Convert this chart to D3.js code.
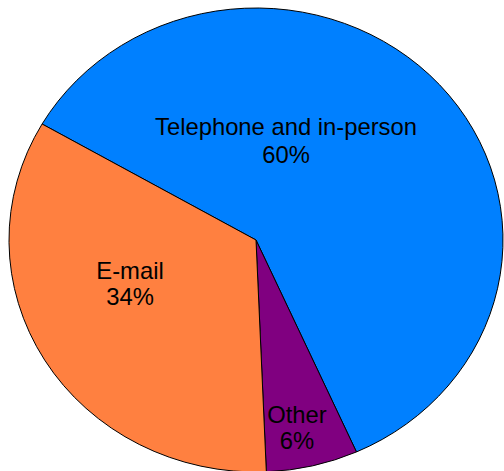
<!DOCTYPE html>
<html>
<head>
<meta charset="utf-8">
<script src="https://cdn.jsdelivr.net/npm/d3@7/dist/d3.min.js"></script>
<style>
html,body{margin:0;padding:0;background:#fff;overflow:hidden;}
svg{display:block;}
</style>
</head>
<body>
<script>
const categories = ["Telephone and in-person", "Other", "E-mail"];
const values = [60, 6, 34];
const pctLabels = ["60%", "6%", "34%"];
const colors = ["#0080FF", "#800080", "#FF8040"];

const W = 504, H = 471;
const cx = 256, cy = 240, rx = 247, ry = 232;

const svg = d3.select("body").append("svg").attr("width", W).attr("height", H);

const pie = d3.pie().sort(null).value(d => d)
  .startAngle(-60 * Math.PI / 180)
  .endAngle(300 * Math.PI / 180);
const arcs = pie(values);
const arc = d3.arc().innerRadius(0).outerRadius(ry);

const g = svg.append("g")
  .attr("transform", `translate(${cx},${cy}) scale(${rx / ry},1)`);

g.selectAll("path").data(arcs).enter().append("path")
  .attr("d", arc)
  .attr("fill", (d, i) => colors[i])
  .attr("stroke", "#000")
  .attr("stroke-width", 1)
  .attr("vector-effect", "non-scaling-stroke");

const labelPos = [
  {x: 286, y: 135},
  {x: 297, y: 423},
  {x: 130, y: 279}
];

const tg = svg.append("g").attr("font-family", "Liberation Sans, Arial, sans-serif")
  .attr("font-size", 23.8).attr("fill", "#000").attr("text-anchor", "middle");

categories.forEach((c, i) => {
  const t = tg.append("text").attr("x", labelPos[i].x).attr("y", labelPos[i].y);
  t.append("tspan").attr("x", labelPos[i].x).text(c);
  t.append("tspan").attr("x", labelPos[i].x).attr("dy", i === 0 ? 28 : 26).text(pctLabels[i]);
});
</script>
</body>
</html>
